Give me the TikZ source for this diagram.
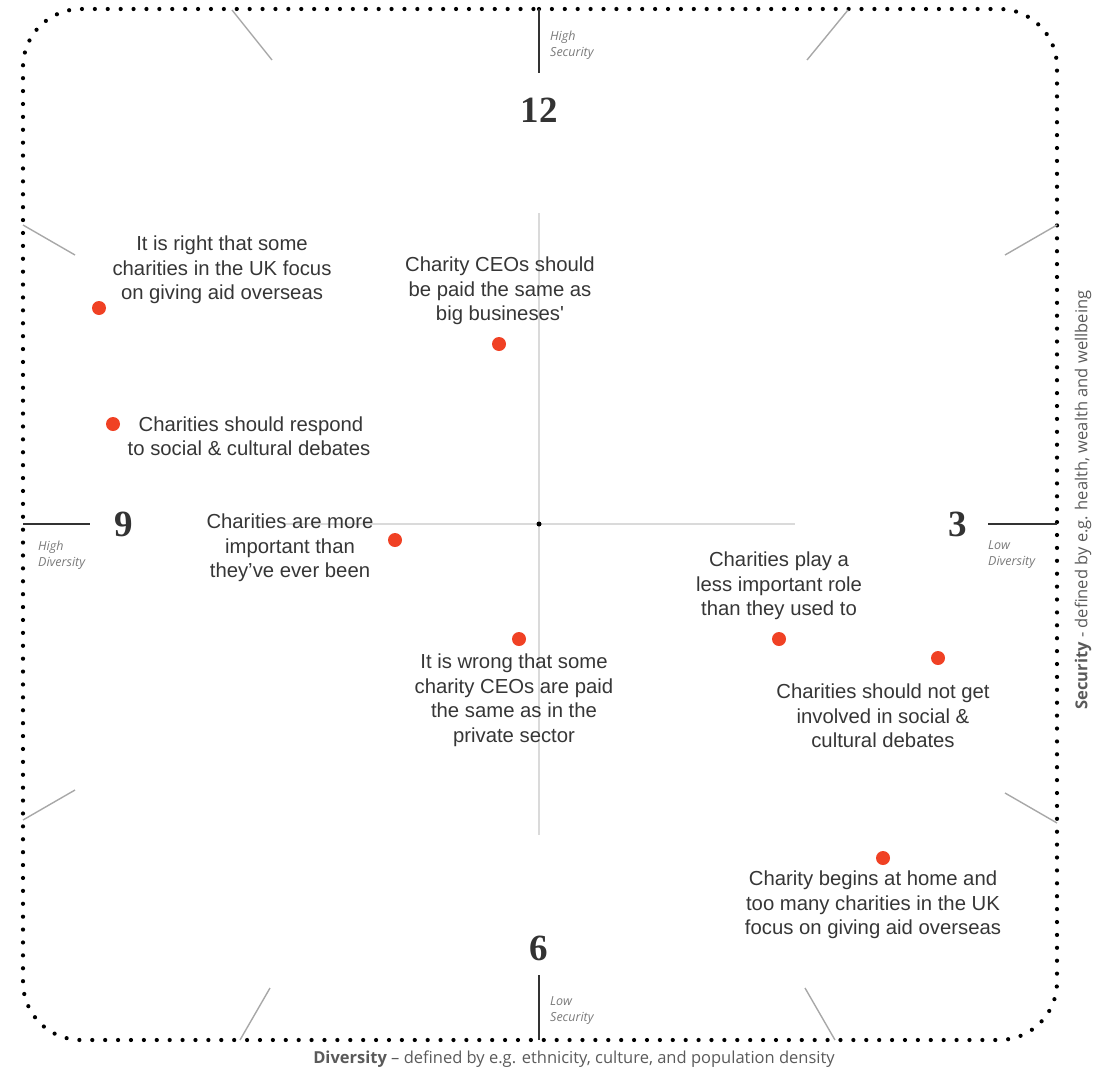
\documentclass[tikz,border=0pt]{standalone}
\usepackage{fontspec}
\setmainfont{Liberation Sans}
\newfontfamily\numfont{Liberation Serif}
\newfontfamily\capfont[Ligatures=TeX]{Open Sans}
\definecolor{txt}{HTML}{363636}
\definecolor{dotred}{HTML}{F04124}
\definecolor{axisgray}{HTML}{DADADA}
\definecolor{tickgray}{HTML}{A8A8A8}
\definecolor{darkline}{HTML}{333333}
\definecolor{labgray}{HTML}{7A7A7A}
\definecolor{capgray}{HTML}{5A5A5A}
\begin{document}
\begin{tikzpicture}[x=1pt,y=-1pt,
  stmt/.style={align=center,inner sep=0pt,text=txt,font=\fontsize{20.3}{24.5}\selectfont},
  pt/.style={circle,fill=dotred,inner sep=0pt,minimum size=14pt},
  hour/.style={inner sep=0pt,text=darkline,font=\numfont\bfseries\fontsize{37}{40}\selectfont},
  axlab/.style={align=left,inner sep=0pt,text=labgray,font=\capfont\itshape\fontsize{12.5}{16}\selectfont},
  diag/.style={draw=tickgray,line width=1.4pt},
  maintick/.style={draw=darkline,line width=2pt},
  axis/.style={draw=axisgray,line width=2pt}]
\useasboundingbox (0,0) rectangle (1106,1071);
% axes
\draw[axis] (283,524) -- (795,524);
\draw[axis] (539,213) -- (539,835);
\node[circle,fill=black,inner sep=0pt,minimum size=5pt] (ctr) at (539,524) {};
% dotted border
\draw[line width=4.2pt,line cap=round,dash pattern=on 0pt off 12.9pt,rounded corners=58pt]
  (539,9) -- (1057,9) -- (1057,1040) -- (23,1040) -- (23,9) -- (539,9);
% main ticks
\draw[maintick] (539,9) -- (539,73);
\draw[maintick] (539,975) -- (539,1040);
\draw[maintick] (23,524) -- (90,524);
\draw[maintick] (988,524) -- (1057,524);
% diagonal ticks
\draw[diag] (232,10) -- (272,60);
\draw[diag] (848,10) -- (807,60);
\draw[diag] (23,225) -- (75,255);
\draw[diag] (1057,225) -- (1005,255);
\draw[diag] (23,820) -- (75,790);
\draw[diag] (1057,823) -- (1005,793);
\draw[diag] (240,1040) -- (270,988);
\draw[diag] (835,1040) -- (805,988);
% hour numbers
\node[hour] (h12) at (539,110) {12};
\node[hour] (h9) at (124,524) {9};
\node[hour] (h3) at (958,524) {3};
\node[hour] (h6) at (539,948) {6};
% axis labels
\node[axlab,anchor=west] (hs) at (550,45) {High\\Security};
\node[axlab,anchor=west] (hd) at (38,555) {High\\Diversity};
\node[axlab,anchor=west] (ld) at (988,555) {Low\\Diversity};
\node[axlab,anchor=west] (ls) at (550,1011) {Low\\Security};
% captions
\node[inner sep=0pt,text=capgray,font=\capfont\fontsize{16.5}{18}\selectfont] (capx) at (574,1059)
  {\textbf{Diversity} – defined by e.g. ethnicity, culture, and population density};
\node[inner sep=0pt,text=capgray,font=\capfont\fontsize{16.5}{18}\selectfont,rotate=90] (capy) at (1083,500)
  {\textbf{Security} - defined by e.g. health, wealth and wellbeing};
% statements
\node[pt] (d1) at (99,308) {};
\node[stmt] (s1) at (222,270) {It is right that some\\charities in the UK focus\\on giving aid overseas};
\node[pt] (d2) at (499,344) {};
\node[stmt] (s2) at (500,291) {Charity CEOs should\\be paid the same as\\big busineses\textquotesingle};
\node[pt] (d3) at (113,424) {};
\node[stmt] (s3) at (249,436) {\hspace*{4pt}Charities should respond\\to social \& cultural debates};
\node[pt] (d4) at (395,540) {};
\node[stmt] (s4) at (290,548) {Charities are more\\important than\\they’ve ever been};
\node[pt] (d5) at (519,639) {};
\node[stmt] (s5) at (514,700) {It is wrong that some\\charity CEOs are paid\\the same as in the\\private sector};
\node[pt] (d6) at (779,639) {};
\node[stmt] (s6) at (779,586) {Charities play a\\less important role\\than they used to};
\node[pt] (d7) at (938,658) {};
\node[stmt] (s7) at (883,716) {Charities should not get\\involved in social \&\\cultural debates};
\node[pt] (d8) at (883,858) {};
\node[stmt] (s8) at (873,905) {Charity begins at home and\\too many charities in the UK\\focus on giving aid overseas};
\end{tikzpicture}
\end{document}
